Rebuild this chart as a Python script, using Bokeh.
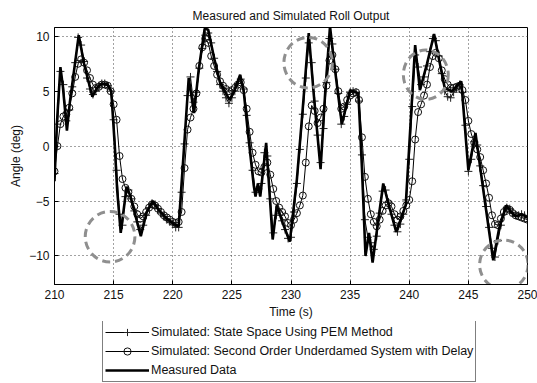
import numpy as np
from bokeh.plotting import figure
from bokeh.layouts import column
from bokeh.models import Legend, LegendItem, FixedTicker, Range1d
from bokeh.embed import file_html
from bokeh.resources import INLINE

# ---------------- data ----------------
title_text = "Measured and Simulated Roll Output"
x_label = "Time (s)"
y_label = "Angle (deg)"
x_ticks = [210, 215, 220, 225, 230, 235, 240, 245, 250]
y_ticks = [-10, -5, 0, 5, 10]

legend_labels = [
    "Simulated: State Space Using PEM Method",
    "Simulated: Second Order Underdamed System with Delay",
    "Measured Data",
]

# measured roll angle (knots)
meas_t = [210.0, 210.2, 210.5, 210.7, 211.05, 211.3, 212.05, 212.5, 213.2, 213.6,
          214.0, 214.5, 214.8, 215.1, 215.3, 215.6, 216.1, 216.4, 217.3, 217.8,
          218.3, 218.8, 219.5, 220.1, 220.5, 220.9, 221.35, 221.8, 222.2, 222.7,
          223.0, 223.5, 224.0, 224.8, 225.2, 225.7, 226.0, 226.3, 226.85, 227.0,
          227.2, 227.4, 227.9, 228.45, 228.8, 229.3, 229.9, 230.5, 231.0, 231.5,
          231.9, 232.5, 232.9, 233.3, 233.6, 234.3, 235.0, 235.7, 236.0, 236.3,
          236.6, 236.9, 237.8, 238.3, 238.9, 239.7, 240.0, 240.5, 240.9, 241.5,
          242.1, 242.5, 243.0, 243.6, 244.4, 245.0, 245.6, 246.3, 247.1, 247.6,
          248.2, 248.6, 249.0, 249.5, 250.0]
meas_v = [-3.2, 2.0, 7.2, 5.5, 1.4, 4.0, 10.1, 7.5, 4.5, 5.3,
          5.7, 5.6, 5.0, 0.0, -4.0, -7.9, -3.7, -4.5, -8.2, -6.0,
          -5.0, -5.8, -6.6, -7.1, -7.3, -1.0, 6.2, 3.0, 7.0, 10.7,
          10.6, 8.0, 5.8, 4.2, 5.0, 6.5, 5.0, 1.8, -3.6, -4.6,
          -3.4, -4.6, 0.3, -8.5, -5.4, -7.0, -8.7, -3.0, 3.5, 10.3,
          5.0, -2.1, 5.0, 10.9, 8.0, 2.0, 5.1, 4.8, -2.0, -10.0,
          -7.9, -10.6, -3.4, -5.5, -7.8, -5.4, 0.0, 9.2, 5.1, 7.5,
          10.2, 8.0, 5.3, 5.0, 5.9, -2.2, 1.2, -4.3, -10.4, -7.5,
          -5.4, -6.0, -6.4, -6.2, -6.5]

# simulated outputs, sampled every 0.25 s from 210 to 250 s
sim_t0 = 210.0
sim_dt = 0.25
pem_v = [-2.5, 2.0, 6.8, 5.6, 2.3, 3.3, 5.4, 7.6, 9.9, 9.2,
         7.7, 6.2, 5.2, 4.7, 5.0, 5.5, 5.7, 5.7, 5.5, 5.0,
         2.4, -2.2, -6.2, -7.2, -4.6, -4.0, -4.8, -5.9, -6.9, -7.6,
         -7.2, -6.3, -5.6, -5.2, -5.3, -5.7, -6.1, -6.4, -6.7, -6.9,
         -7.1, -7.4, -7.4, -4.2, 0.2, 4.6, 6.3, 4.0, 4.9, 7.1,
         8.9, 10.1, 10.3, 9.4, 8.0, 6.8, 5.6, 5.0, 4.4, 3.9,
         4.4, 5.0, 5.7, 6.1, 5.2, 2.8, 0.3, -2.2, -4.2, -3.9,
         -3.4, -0.6, -0.9, -4.8, -7.9, -6.3, -6.0, -6.8, -7.6, -8.4,
         -8.3, -6.0, -3.4, -0.3, 2.9, 6.2, 9.4, 7.6, 4.1, 1.0,
         -1.5, 1.6, 5.8, 9.8, 9.3, 7.0, 4.8, 2.0, 2.7, 3.8,
         4.9, 5.0, 4.9, 4.1, -0.8, -6.7, -8.3, -8.8, -9.4, -8.2,
         -6.1, -4.1, -4.0, -5.1, -6.2, -7.2, -7.8, -7.1, -6.2, -4.9,
         -1.2, 3.6, 8.3, 7.2, 5.6, 6.3, 7.3, 8.6, 9.8, 9.6,
         8.2, 6.6, 5.0, 4.5, 4.4, 4.9, 5.3, 5.6, 4.9, 1.9,
         -2.3, -1.2, 0.4, 0.1, -1.8, -3.6, -5.5, -7.4, -9.3, -10.1,
         -8.6, -7.2, -6.2, -5.6, -5.7, -6.1, -6.3, -6.3, -6.2, -6.3,
         -6.5]
so_v = [-2.3, 0.0, 2.0, 2.7, 2.9, 3.5, 4.8, 6.3, 7.5, 7.9,
        7.6, 6.9, 6.2, 5.6, 5.3, 5.4, 5.6, 5.6, 5.5, 5.0,
        3.8, 2.4, -0.9, -3.0, -3.8, -4.2, -4.8, -5.5, -6.2, -6.6,
        -6.4, -6.0, -5.6, -5.3, -5.4, -5.7, -6.0, -6.3, -6.5, -6.7,
        -6.9, -7.0, -6.9, -6.0, -2.0, 1.5, 2.6, 3.4, 4.8, 7.3,
        9.0, 9.8, 9.4, 8.2, 7.3, 6.5, 5.9, 5.5, 5.2, 5.0,
        5.1, 5.3, 5.6, 5.8, 5.1, 3.4, 1.3, -0.6, -1.7, -2.3,
        -2.4, -1.9, -1.5, -2.6, -3.9, -5.0, -5.6, -6.0, -6.4, -7.0,
        -7.2, -6.7, -6.1, -5.4, -4.5, -1.5, 1.8, 3.7, 3.2, 2.1,
        2.6, 3.4, 5.5, 7.8, 8.3, 7.0, 5.0, 3.4, 3.6, 4.2,
        4.6, 4.8, 4.9, 4.2, 0.8, -2.8, -4.8, -6.2, -6.9, -7.3,
        -6.7, -5.9, -5.4, -5.2, -5.5, -6.2, -6.7, -6.4, -5.9, -5.4,
        -4.9, -3.2, 0.6, 3.1, 3.8, 4.6, 5.6, 7.2, 8.2, 8.5,
        8.0, 6.9, 6.1, 5.6, 5.3, 5.3, 5.4, 5.5, 5.1, 4.2,
        2.3, 1.1, 0.3, -0.3, -1.0, -2.2, -3.4, -4.7, -6.3, -7.1,
        -7.2, -6.6, -6.0, -5.7, -5.8, -6.1, -6.3, -6.4, -6.5, -6.6,
        -6.7]

# dashed highlight ellipses (centre time, centre angle, width s, height deg)
ann_t = [214.7, 231.45, 241.4, 248.0]
ann_v = [-8.25, 7.6, 6.5, -10.8]
ann_w = [4.2, 4.1, 3.8, 4.1]
ann_h = [4.6, 4.6, 4.5, 4.5]

sim_t = [sim_t0 + i * sim_dt for i in range(len(pem_v))]
assert len(pem_v) == len(so_v) == 161

FONT = "Liberation Sans"

# ---------------- main plot ----------------
p = figure(width=537, height=321, output_backend="svg", toolbar_location=None,
           x_range=Range1d(210, 250), y_range=Range1d(-12.6, 10.8),
           min_border_left=54, min_border_right=10, min_border_top=27,
           min_border_bottom=33, background_fill_color="white",
           border_fill_color="white")

p.title.text = title_text
p.title.align = "center"
p.title.vertical_align = "top"
p.title.text_font = FONT
p.title.text_font_size = "12px"
p.title.text_font_style = "normal"
p.title.text_color = "#111111"
p.title.standoff = 6

p.outline_line_color = "black"
p.outline_line_width = 1
p.outline_line_alpha = 1

for ax, ticks, lab in ((p.xaxis[0], x_ticks, x_label), (p.yaxis[0], y_ticks, y_label)):
    ax.ticker = FixedTicker(ticks=ticks)
    ax.axis_label = lab
    ax.axis_label_text_font = FONT
    ax.axis_label_text_font_size = "12px"
    ax.axis_label_text_font_style = "normal"
    ax.axis_label_text_color = "#111111"
    ax.major_label_text_font = FONT
    ax.major_label_text_font_size = "12px"
    ax.major_label_text_color = "#111111"
    ax.major_tick_in = 4
    ax.major_tick_out = 0
    ax.minor_tick_in = 0
    ax.minor_tick_out = 0
    ax.axis_line_color = "black"
    ax.major_tick_line_color = "black"
    ax.major_label_standoff = 5
    ax.axis_label_standoff = 3

p.xgrid.ticker = FixedTicker(ticks=x_ticks)
p.ygrid.ticker = FixedTicker(ticks=y_ticks)
for g in (p.xgrid[0], p.ygrid[0]):
    g.grid_line_color = "#444444"
    g.grid_line_dash = "1 3"
    g.grid_line_width = 1

PEM_LINE = dict(line_color="black", line_width=1)
PEM_MARK = dict(marker="cross", size=8, line_color="#222222", line_width=1)
SO_LINE = dict(line_color="black", line_width=1)
SO_MARK = dict(marker="circle", size=7, fill_color=None, line_color="#111111", line_width=1)
MEAS_LINE = dict(line_color="black", line_width=2.6)

p.line(sim_t, pem_v, **PEM_LINE)
p.scatter(sim_t, pem_v, **PEM_MARK)
p.line(sim_t, so_v, **SO_LINE)
p.scatter(sim_t, so_v, **SO_MARK)
p.line(meas_t, meas_v, **MEAS_LINE)

p.ellipse(x=ann_t, y=ann_v, width=ann_w, height=ann_h, fill_color=None,
          line_color="#8f8f8f", line_width=3, line_dash="8 5")

# ---------------- legend strip ----------------
q = figure(width=537, height=62, output_backend="svg", toolbar_location=None,
           x_range=Range1d(0, 1), y_range=Range1d(0, 1),
           x_axis_type=None, y_axis_type=None,
           min_border_left=0, min_border_right=0, min_border_top=0,
           min_border_bottom=0, outline_line_color=None,
           background_fill_color="white", border_fill_color="white")
# off-screen proxies so the legend can draw its sample glyphs
px = [5.0, 6.0]
py = [5.0, 6.0]
r1a = q.line(px, py, **PEM_LINE)
r1b = q.scatter(px, py, **PEM_MARK)
r2a = q.line(px, py, **SO_LINE)
r2b = q.scatter(px, py, **SO_MARK)
r3 = q.line(px, py, **MEAS_LINE)

legend = Legend(items=[
    LegendItem(label=legend_labels[0], renderers=[r1a, r1b]),
    LegendItem(label=legend_labels[1], renderers=[r2a, r2b]),
    LegendItem(label=legend_labels[2], renderers=[r3]),
], location=(48, 1))
legend.label_text_font = FONT
legend.label_text_font_size = "12.5px"
legend.label_text_color = "#111111"
legend.glyph_width = 44
legend.glyph_height = 18
legend.label_height = 18
legend.label_standoff = 2
legend.spacing = 1
legend.padding = 2
legend.margin = 0
legend.border_line_color = "black"
legend.border_line_width = 1
legend.background_fill_color = "white"
legend.background_fill_alpha = 1
q.add_layout(legend, "center")

layout = column(p, q, spacing=0)
open("out.html", "w").write(file_html(layout, INLINE))
